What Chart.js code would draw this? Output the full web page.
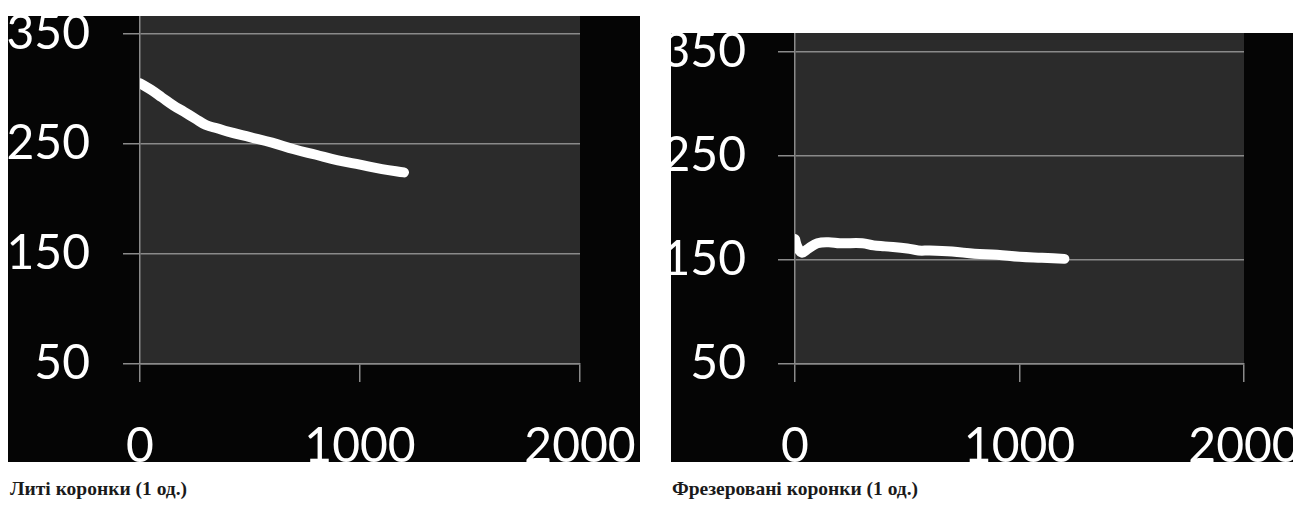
<!DOCTYPE html>
<html lang="uk">
<head>
<meta charset="utf-8">
<script src="https://cdn.jsdelivr.net/npm/chart.js@4.4.1/dist/chart.umd.min.js"></script>
<style>
  html, body { margin: 0; padding: 0; background: #fff; width: 1293px; height: 506px; overflow: hidden; }
  .panel { position: absolute; background: #050505; }
  #p1 { left: 8px; top: 16px; width: 632px; height: 446px; }
  #p2 { left: 671px; top: 33px; width: 622px; height: 429px; }
  .cap { position: absolute; top: 478px; font-family: "Liberation Serif", "Times New Roman", serif;
         font-weight: bold; font-size: 19.5px; color: #1a1a1a; white-space: nowrap; }
</style>
</head>
<body>
<div class="panel" id="p1"><canvas id="c1" width="632" height="446"></canvas></div>
<div class="panel" id="p2"><canvas id="c2" width="622" height="429"></canvas></div>
<div class="cap" style="left:10px">Литі коронки (1 од.)</div>
<div class="cap" style="left:672px">Фрезеровані коронки (1 од.)</div>

<script>
// дані
const castX = [0, 50, 100, 150, 200, 250, 300, 350, 400, 500, 600, 700, 800, 900, 1000, 1100, 1200];
const castY = [305, 299, 292, 285, 279, 273, 267, 264, 261, 256, 251, 245, 240, 235, 231, 227, 224];

const millX = [0, 10, 30, 60, 100, 150, 200, 300, 350, 400, 500, 550, 600, 700, 800, 900, 1000, 1100, 1200];
const millY = [170, 163, 157, 161, 166, 167, 166, 166, 164, 163, 161, 159, 159, 158, 156, 155, 153, 152, 151];

const yTicks = [50, 150, 250, 350];
const xTicks = [0, 1000, 2000];

const gridColor = '#8a8a8a';
const tickFont = { family: 'Lato', size: 48 };

// фон області побудови
const plotBg = {
  id: 'plotBg',
  beforeDraw(chart) {
    const a = chart.chartArea;
    const c = chart.ctx;
    c.save();
    c.fillStyle = '#2b2b2b';
    c.fillRect(a.left, a.top, a.right - a.left, a.bottom - a.top);
    c.restore();
  }
};

function makeChart(id, xs, ys, yMax, yWidth, rightPad, yPad) {
  const pts = xs.map((x, i) => ({ x: x, y: ys[i] }));
  return new Chart(document.getElementById(id), {
    type: 'line',
    data: {
      datasets: [{
        data: pts,
        borderColor: '#ffffff',
        borderWidth: 10,
        borderCapStyle: 'round',
        borderJoinStyle: 'round',
        pointRadius: 0,
        tension: 0.4,
        fill: false
      }]
    },
    options: {
      responsive: false,
      animation: false,
      events: [],
      layout: { padding: { left: 0, top: 0, right: rightPad, bottom: 0 } },
      plugins: { legend: { display: false }, tooltip: { enabled: false } },
      scales: {
        x: {
          type: 'linear',
          min: 0, max: 2000,
          afterBuildTicks: s => { s.ticks = xTicks.map(v => ({ value: v })); },
          afterFit: s => { s.height = 98; s.paddingLeft = 0; s.paddingRight = 0; },
          ticks: { color: '#ffffff', font: tickFont, padding: 36, maxRotation: 0, autoSkip: false,
                   callback: v => String(v) },
          grid: { drawOnChartArea: false, color: gridColor, lineWidth: 1.5, tickLength: 18 },
          border: { color: gridColor, width: 1.5 }
        },
        y: {
          min: 50, max: yMax,
          afterBuildTicks: s => { s.ticks = yTicks.map(v => ({ value: v })); },
          afterFit: s => { s.width = yWidth; s.paddingTop = 0; s.paddingBottom = 0; },
          ticks: { color: '#ffffff', font: tickFont, padding: yPad, autoSkip: false,
                   callback: v => String(v) },
          grid: { color: gridColor, lineWidth: 1.5, tickLength: 17 },
          border: { color: gridColor, width: 1.5 }
        }
      }
    },
    plugins: [plotBg]
  });
}

makeChart('c1', castX, castY, 366, 132, 60, 33);
makeChart('c2', millX, millY, 368, 124, 49, 32);
</script>
</body>
</html>
